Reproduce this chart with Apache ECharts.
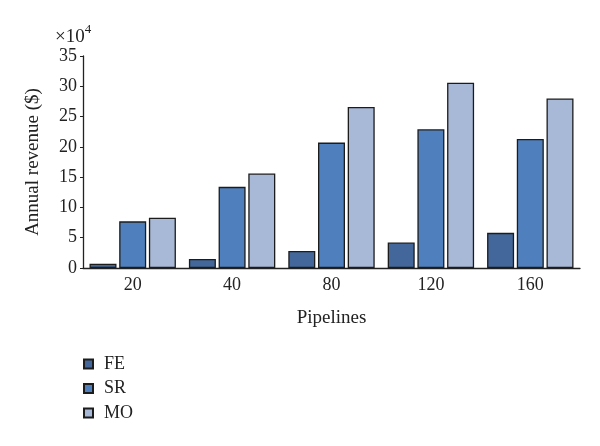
<!DOCTYPE html>
<html>
<head>
<meta charset="utf-8">
<script src="https://cdn.jsdelivr.net/npm/echarts@6/dist/echarts.min.js"></script>
<style>html,body{margin:0;padding:0;background:#fff}#c{width:600px;height:446px}</style>
</head>
<body>
<div id="c"></div>
<script>
const categories = ['20', '40', '80', '120', '160'];
const feValues = [0.7, 1.5, 2.8, 4.2, 5.8];
const srValues = [7.7, 13.4, 20.7, 22.9, 21.3];
const moValues = [8.3, 15.6, 26.6, 30.6, 28.0];
const seriesNames = ['FE', 'SR', 'MO'];

const FONT = '"Liberation Serif", "DejaVu Serif", serif';
const chart = echarts.init(document.getElementById('c'), null, {renderer: 'canvas'});
const colors = ['#43679b', '#4f80bd', '#a8b9d8'];
const mk = (name, data, i) => ({
  name, type: 'bar', data,
  barWidth: 27, barGap: '10%',
  itemStyle: {color: colors[i], borderColor: '#1c1c1c', borderWidth: 1.3},
  emphasis: {disabled: true}
});
chart.setOption({
  animation: false,
  textStyle: {fontFamily: FONT},
  title: {
    text: '{a|×10}{b|4}',
    left: 55, top: 20, padding: 0,
    textStyle: {
      fontWeight: 'normal',
      rich: {
        a: {fontFamily: FONT, fontSize: 19, fontWeight: 'normal', color: '#222', padding: [8, 0, 0, 0]},
        b: {fontFamily: FONT, fontSize: 13, fontWeight: 'normal', color: '#222', padding: [0, 0, 8, 0]}
      }
    }
  },
  grid: {left: 83, right: 20, top: 56, bottom: 178, containLabel: false},
  legend: {
    orient: 'vertical', left: 83, top: 355, padding: 0,
    itemWidth: 9, itemHeight: 9, itemGap: 6.5,
    icon: 'rect',
    data: seriesNames,
    textStyle: {fontFamily: FONT, fontSize: 18, color: '#222', padding: [0, 0, 0, 6]}
  },
  xAxis: {
    type: 'category', data: categories,
    name: 'Pipelines', nameLocation: 'middle', nameGap: 41,
    nameTextStyle: {fontFamily: FONT, fontSize: 19, color: '#222'},
    axisLine: {lineStyle: {color: '#222', width: 1.3}},
    axisTick: {show: false},
    axisLabel: {fontFamily: FONT, fontSize: 18, color: '#222', margin: 8}
  },
  yAxis: {
    type: 'value', min: 0, max: 35, interval: 5,
    name: 'Annual revenue ($)', nameLocation: 'middle', nameGap: 40,
    nameTextStyle: {fontFamily: FONT, fontSize: 19, color: '#222'},
    axisLine: {show: true, lineStyle: {color: '#222', width: 1.3}},
    axisTick: {show: true, length: 3, lineStyle: {color: '#222'}},
    splitLine: {show: false},
    axisLabel: {fontFamily: FONT, fontSize: 18, color: '#222', margin: 6}
  },
  series: [mk('FE', feValues, 0), mk('SR', srValues, 1), mk('MO', moValues, 2)]
});
</script>
</body>
</html>
